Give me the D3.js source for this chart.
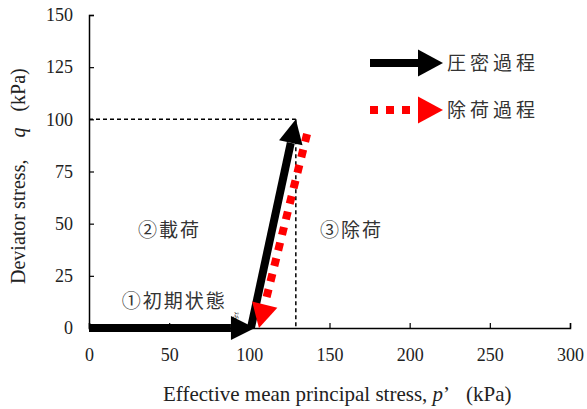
<!DOCTYPE html>
<html>
<head>
    <meta charset="UTF-8">
    <style>
        body { margin: 0; background: #fff; }
    </style>
</head>
<body>
    <svg></svg>
    <script src="https://d3js.org/d3.v7.min.js"></script>
    <script>
        let width = 587, height = 409;

        // data
        let xTicks = [0, 50, 100, 150, 200, 250, 300];
        let yTicks = [0, 25, 50, 75, 100, 125, 150];
        let initialPath = [[0, 0], [103.5, 0]];
        let loadingPath = [[101, 0], [129, 100]];
        let unloadingPath = [[136, 93], [106, 0]];
        let guideLines = [[[0, 100], [129, 100]], [[129, 100], [129, 0]]];
        let stageLabels = [
            { text: "①初期状態", p: 20.5, q: 13 },
            { text: "②載荷", p: 30.5, q: 47 },
            { text: "③除荷", p: 144, q: 47 }
        ];
        let legendItems = [
            { text: "圧密過程", color: "#000", dotted: false },
            { text: "除荷過程", color: "#ff0000", dotted: true }
        ];

        let serif = "'Liberation Serif', 'Times New Roman', serif";
        let jpFont = "'Noto Sans CJK JP', sans-serif";

        let margin = { left: 89, right: 17, top: 15, bottom: 81 };

        let svg = d3.select("svg")
            .attr("width", width)
            .attr("height", height);

        let x = d3.scaleLinear().domain([0, 300]).range([margin.left, width - margin.right]);
        let y = d3.scaleLinear().domain([0, 150]).range([height - margin.bottom, margin.top]);

        // axes with inward ticks
        let xAxis = svg.append("g")
            .attr("transform", "translate(0," + y(0) + ")")
            .call(d3.axisBottom(x).tickValues(xTicks).tickSize(-5).tickPadding(20));
        let yAxis = svg.append("g")
            .attr("transform", "translate(" + x(0) + ",0)")
            .call(d3.axisLeft(y).tickValues(yTicks).tickSize(-5).tickPadding(16));

        [xAxis, yAxis].forEach(a => {
            a.select(".domain").attr("stroke", "#000").attr("stroke-width", 1.5);
            a.selectAll(".tick line").attr("stroke", "#000").attr("stroke-width", 1.2);
            a.selectAll(".tick text")
                .style("font-family", serif)
                .style("font-size", "18px")
                .style("fill", "#222");
        });

        // dashed guide lines
        svg.append("g").selectAll("line")
            .data(guideLines)
            .enter()
            .append("line")
            .attr("x1", d => x(d[0][0]))
            .attr("y1", d => y(d[0][1]))
            .attr("x2", d => x(d[1][0]))
            .attr("y2", d => y(d[1][1]))
            .attr("stroke", "#000")
            .attr("stroke-width", 1.5)
            .attr("stroke-dasharray", "4,3");

        // arrow drawing: line + triangular head, in pixel space
        function drawArrow(g, x1, y1, x2, y2, color, dotted, headLen, headW, lineW) {
            let dx = x2 - x1, dy = y2 - y1;
            let len = Math.sqrt(dx * dx + dy * dy);
            let ux = dx / len, uy = dy / len;
            let bx = x2 - ux * headLen, by = y2 - uy * headLen;
            g.append("line")
                .attr("x1", x1).attr("y1", y1)
                .attr("x2", bx).attr("y2", by)
                .attr("stroke", color)
                .attr("stroke-width", lineW)
                .attr("stroke-dasharray", dotted ? "8,8" : null);
            g.append("polygon")
                .attr("points", [
                    [x2, y2],
                    [bx - uy * headW / 2, by + ux * headW / 2],
                    [bx + uy * headW / 2, by - ux * headW / 2]
                ].map(p => p.join(",")).join(" "))
                .attr("fill", color);
        }

        let arrows = svg.append("g");
        drawArrow(arrows, x(initialPath[0][0]), y(initialPath[0][1]), x(initialPath[1][0]), y(initialPath[1][1]), "#000", false, 24, 24, 8);
        drawArrow(arrows, x(loadingPath[0][0]), y(loadingPath[0][1]), x(loadingPath[1][0]), y(loadingPath[1][1]), "#000", false, 24, 24, 8);
        drawArrow(arrows, x(unloadingPath[0][0]), y(unloadingPath[0][1]), x(unloadingPath[1][0]), y(unloadingPath[1][1]), "#ff0000", true, 24, 26, 8);

        // stage labels
        svg.append("g").selectAll("text")
            .data(stageLabels)
            .enter()
            .append("text")
            .attr("x", d => x(d.p))
            .attr("y", d => y(d.q))
            .attr("dy", "0.35em")
            .style("font-family", jpFont)
            .style("font-size", "19px")
            .style("letter-spacing", "2px")
            .style("fill", "#333")
            .text(d => d.text);

        // tiny mark near the end of initial arrow
        svg.append("text")
            .attr("x", 232).attr("y", 318)
            .style("font-family", jpFont)
            .style("font-size", "7px")
            .text("ぷ");

        // legend
        let legend = svg.append("g").attr("transform", "translate(370,63)");
        legendItems.forEach((d, i) => {
            let gy = i * 47;
            drawArrow(legend, 0, gy, 73, gy, d.color, d.dotted, 25, 27, 8);
            legend.append("text")
                .attr("x", 77)
                .attr("y", gy)
                .attr("dy", "0.35em")
                .style("font-family", jpFont)
                .style("font-size", "19px")
                .style("letter-spacing", "4px")
                .style("fill", "#333")
                .text(d.text);
        });

        // axis titles
        let xTitle = svg.append("text")
            .attr("x", 163)
            .attr("y", 401)
            .style("font-family", serif)
            .style("font-size", "21px")
            .style("fill", "#222");
        xTitle.append("tspan").text("Effective mean principal stress, ");
        xTitle.append("tspan").style("font-style", "italic").text("p");
        xTitle.append("tspan").text("’");
        xTitle.append("tspan").attr("dx", 16).text("(kPa)");

        let yTitle = svg.append("text")
            .attr("transform", "translate(25,284) rotate(-90)")
            .style("font-family", serif)
            .style("font-size", "20px")
            .style("fill", "#222");
        yTitle.append("tspan").text("Deviator stress,");
        yTitle.append("tspan").attr("dx", 22).style("font-style", "italic").text("q");
        yTitle.append("tspan").attr("dx", 16).text("(kPa)");
    </script>
</body>
</html>
